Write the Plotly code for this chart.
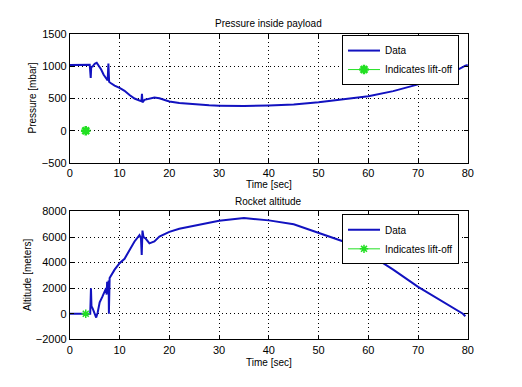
import plotly.graph_objects as go

# ---- data ----
t_pressure = [0, 2, 4.0, 4.2, 4.3, 4.6, 5.0, 5.4, 5.8, 6.3, 6.8, 7.3, 7.6, 7.75, 7.8, 7.9, 8.2, 9, 10, 11, 12, 13, 14,
              14.4, 14.5, 14.6, 15, 16, 17, 18, 19, 20, 22, 25, 28, 30, 35, 40, 45, 50, 55, 60, 65, 70, 75, 78, 79.5, 80]
pressure = [1020, 1020, 1025, 820, 990, 1000, 1040, 1055, 1010, 950, 870, 800, 780, 1045, 800, 760, 740, 700, 665, 620,
            555, 500, 470, 460, 575, 440, 480, 500, 515, 505, 480, 455, 430, 410, 395, 390, 385, 392, 407, 443, 490,
            535, 615, 720, 855, 950, 1010, 1020]

t_alt = [0, 3, 4.1, 4.25, 4.35, 4.6, 5.0, 5.3, 5.6, 6.0, 6.5, 7.0, 7.3, 7.4, 7.5, 7.7, 7.8, 7.85, 7.9, 8.0, 9, 10, 11,
         12, 13, 14, 14.3, 14.45, 14.6, 14.8, 15.2, 16, 17, 18, 20, 22, 25, 30, 35, 40, 45, 50, 55, 60, 65, 70, 75,
         79, 79.5]
altitude = [0, 0, 0, 2000, 600, 400, 0, -300, 100, 900, 1300, 1700, 2000, 1500, 2500, 2200, 2600, 0, 2500, 2800, 3450,
            3950, 4300, 5000, 5650, 6150, 5900, 4600, 6500, 6000, 5900, 5500, 5650, 6030, 6400, 6650, 6900, 7270, 7480,
            7300, 7000, 6330, 5650, 4700, 3450, 2100, 950, 0, -200]

liftoff_t = [3.2]
liftoff_val = [0]

x_ticks = [0, 10, 20, 30, 40, 50, 60, 70, 80]
p_ticks = [-500, 0, 500, 1000, 1500]
a_ticks = [-2000, 0, 2000, 4000, 6000, 8000]

BLUE = "#1212c0"
GREEN = "#22e022"
FONT = "Liberation Sans, Arial, sans-serif"

fig = go.Figure()
fig.add_trace(go.Scatter(x=t_pressure, y=pressure, mode="lines", name="Data",
                         line=dict(color=BLUE, width=2), xaxis="x", yaxis="y", legend="legend"))
fig.add_trace(go.Scatter(x=liftoff_t, y=liftoff_val, mode="lines+markers", name="Indicates lift-off",
                         line=dict(color=GREEN, width=1),
                         marker=dict(symbol="asterisk-open", size=8, line=dict(color=GREEN, width=2.5)),
                         xaxis="x", yaxis="y", legend="legend"))
fig.add_trace(go.Scatter(x=t_alt, y=altitude, mode="lines", name="Data",
                         line=dict(color=BLUE, width=2), xaxis="x2", yaxis="y2", legend="legend2"))
fig.add_trace(go.Scatter(x=liftoff_t, y=liftoff_val, mode="lines+markers", name="Indicates lift-off",
                         line=dict(color=GREEN, width=1),
                         marker=dict(symbol="asterisk-open", size=7, line=dict(color=GREEN, width=1.5)),
                         xaxis="x2", yaxis="y2", legend="legend2"))

W, H = 522, 387
xdom = [68 / W, 473 / W]
ydom1 = [1 - 162 / H, 1 - 29 / H]
ydom2 = [1 - 344 / H, 1 - 212 / H]

axis_common = dict(showline=True, linecolor="black", linewidth=1, mirror="ticks",
                   ticks="inside", ticklen=4, tickcolor="black",
                   showgrid=True, gridcolor="black", griddash="1px,3px", gridwidth=1,
                   zeroline=False, tickfont=dict(size=11, color="black", family=FONT))

legend_common = dict(bgcolor="white", bordercolor="black", borderwidth=1,
                     font=dict(size=10, color="black", family=FONT),
                     xanchor="right", yanchor="top", itemwidth=32, tracegroupgap=0)

fig.update_layout(
    width=W, height=H,
    margin=dict(l=0, r=0, t=0, b=0),
    paper_bgcolor="white", plot_bgcolor="white",
    font=dict(family=FONT, size=10, color="black"),
    xaxis=dict(domain=xdom, anchor="y", range=[0, 80], tickvals=x_ticks, **axis_common),
    yaxis=dict(domain=ydom1, anchor="x", range=[-500, 1500], tickvals=p_ticks, **axis_common),
    xaxis2=dict(domain=xdom, anchor="y2", range=[0, 80], tickvals=x_ticks, **axis_common),
    yaxis2=dict(domain=ydom2, anchor="x2", range=[-2000, 8000], tickvals=a_ticks, **axis_common),
    legend=dict(x=464 / W, y=1 - 30 / H, **legend_common),
    legend2=dict(x=464 / W, y=1 - 215 / H, **legend_common),
    showlegend=True,
)

def txt(s, x, y, angle=0, size=10):
    fig.add_annotation(text=s, x=x / W, y=1 - y / H, xref="paper", yref="paper",
                       showarrow=False, textangle=angle, xanchor="center", yanchor="middle",
                       font=dict(size=size, family=FONT, color="black"))

txt("Pressure inside payload", 270.5, 18)
txt("Time [sec]", 270.5, 184)
txt("Pressure [mbar]", 30, 95, angle=-90)
txt("Rocket altitude", 270.5, 202)
txt("Time [sec]", 270.5, 368)
txt("Altitude [meters]", 25, 278, angle=-90)

fig.write_html("out.html",
               config={"displayModeBar": False},
               post_script="document.body.style.margin='0';document.body.style.overflow='hidden';")
